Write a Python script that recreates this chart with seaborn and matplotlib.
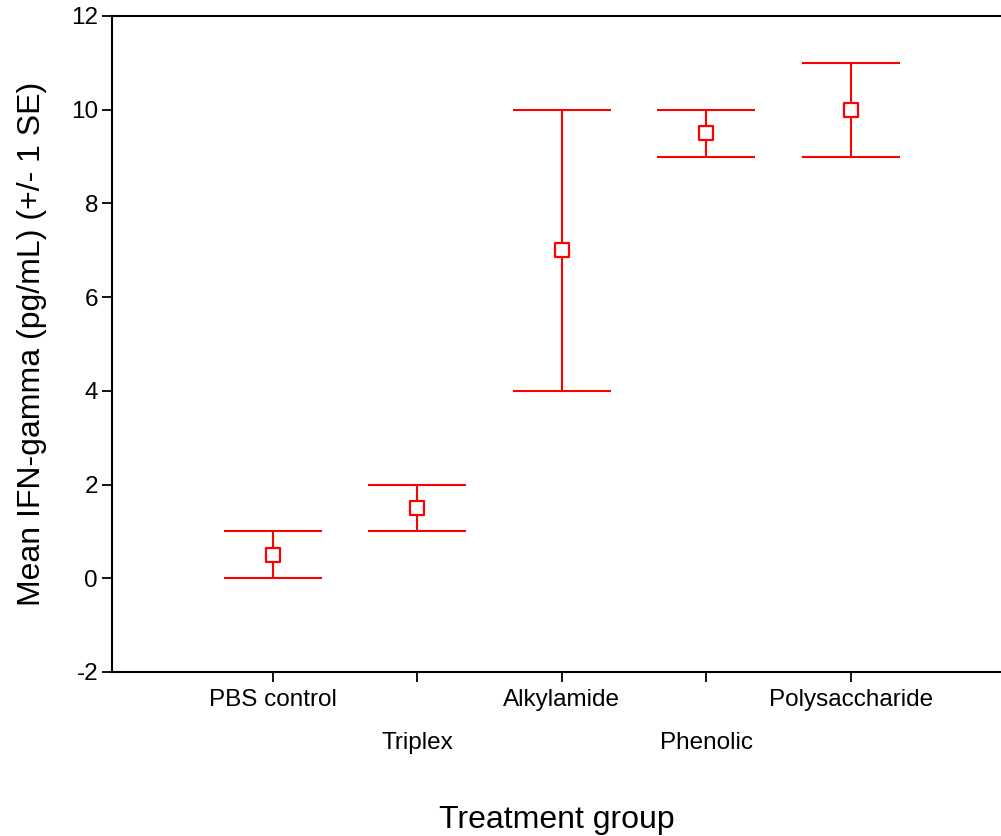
import numpy as np
import seaborn as sns
import matplotlib.pyplot as plt

# group means and +/- 1 SE bounds
groups = ["PBS control", "Triplex", "Alkylamide", "Phenolic", "Polysaccharide"]
means = [0.5, 1.5, 7.0, 9.5, 10.0]
lower = [0.0, 1.0, 4.0, 9.0, 9.0]
upper = [1.0, 2.0, 10.0, 10.0, 11.0]

sns.set_theme(style="white")
plt.rcParams['font.family'] = ['Liberation Sans', 'DejaVu Sans']

fig = plt.figure(figsize=(10.01, 8.36), dpi=100)
ax = fig.add_axes([0.1119, 0.1962, 0.888, 0.7847])

x = np.arange(len(groups))
m = np.array(means)
yerr = np.vstack([m - np.array(lower), np.array(upper) - m])

ax.errorbar(x, m, yerr=yerr, fmt='none', ecolor='red', elinewidth=1.5,
            capsize=35, capthick=1.5)
sns.scatterplot(x=x, y=m, marker='s', s=90, facecolor='white',
                edgecolor='red', linewidth=1.6, ax=ax, zorder=3)

ax.set_xlim(-1.114, 5.04)
ax.set_ylim(-2, 12)
ax.set_yticks(range(-2, 13, 2))
ax.set_yticklabels([str(v) for v in range(-2, 13, 2)])
ax.set_xticks(x)
ax.set_xticklabels(groups)

ax.tick_params(axis='both', direction='out', length=7, width=1.3,
               labelsize=17.5, color='black', labelcolor='black',
               bottom=True, left=True)
ax.tick_params(axis='x', pad=5)
ax.tick_params(axis='y', pad=3)
for i, t in enumerate(ax.xaxis.get_major_ticks()):
    if i % 2 == 1:
        t.set_pad(36)

for side in ['left', 'bottom', 'top']:
    ax.spines[side].set_color('black')
    ax.spines[side].set_linewidth(1.5)
ax.spines['right'].set_visible(False)

ax.set_xlabel("Treatment group", fontsize=23, color='black', labelpad=37)
ax.set_ylabel("Mean IFN-gamma (pg/mL) (+/- 1 SE)", fontsize=23,
              color='black', labelpad=17)

fig.savefig("out.png", dpi=100, facecolor='white')
